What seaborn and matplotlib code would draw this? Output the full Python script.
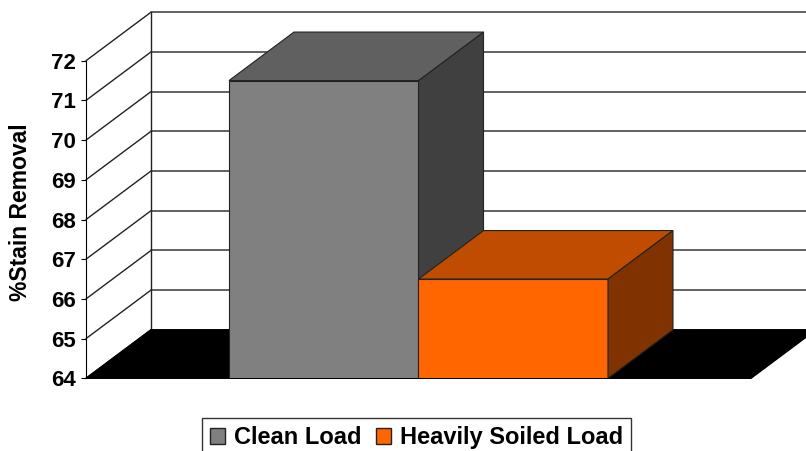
import matplotlib
matplotlib.use("Agg")
import matplotlib.pyplot as plt
import seaborn as sns
import pandas as pd
from matplotlib.patches import Polygon, Patch

categories = ["Clean Load", "Heavily Soiled Load"]
values = [71.5, 66.5]
front_colors = ["#808080", "#FF6600"]
top_colors = ["#606060", "#BF4C00"]
side_colors = ["#404040", "#803300"]
yticks = [64, 65, 66, 67, 68, 69, 70, 71, 72]

W, H = 806, 451
sns.set_style("white")
plt.rcParams["font.family"] = ["Liberation Sans", "DejaVu Sans"]
plt.rcParams["font.weight"] = "bold"
plt.rcParams["text.color"] = "black"

fig = plt.figure(figsize=(W / 100, H / 100), dpi=100)
# axes box = front plane, from the y axis (x=86px) to the right edge
ax_left, ax_bottom, ax_top = 86, 378.3, 60.7
ax = fig.add_axes([ax_left / W, (H - ax_bottom) / H, (W - ax_left) / W, (ax_bottom - ax_top) / H])

df = pd.DataFrame({"load": categories, "removal": values})
sns.barplot(data=df, x="load", y="removal", hue="load", palette=front_colors,
            saturation=1, width=1.0, legend=False, ax=ax, edgecolor="#222222",
            linewidth=0.8, zorder=5)

px_per_x = 189.5
x0 = -0.5 - (229 - ax_left) / px_per_x
x1 = x0 + (W - ax_left) / px_per_x
ax.set_xlim(x0, x1)
ax.set_ylim(64, 72)

# depth offset of the 3D look, in data units
dx = 65 / px_per_x
dy = 48.5 / ((ax_bottom - ax_top) / 8)

floor_right = x0 + (751 - ax_left) / px_per_x
base = 64

# back wall gridlines + diagonals on the left wall
for v in yticks:
    ax.plot([x0, x0 + dx], [v, v + dy], color="#222222", lw=1, clip_on=False, zorder=1)
    ax.plot([x0 + dx, x1 + 1], [v + dy, v + dy], color="#555555", lw=1.3, clip_on=False, zorder=1)
ax.plot([x0 + dx, x0 + dx], [base + dy, 72 + dy], color="#222222", lw=1, clip_on=False, zorder=1)

# black floor
ax.add_patch(Polygon([(x0, base), (floor_right, base), (floor_right + dx, base + dy),
                      (x0 + dx, base + dy)], closed=True, facecolor="black",
                     edgecolor="black", clip_on=False, zorder=2))

# top and side faces from the bar patches
for i, bar in enumerate(ax.patches[:len(values)]):
    bx, bw, top = bar.get_x(), bar.get_width(), bar.get_height()
    ax.add_patch(Polygon([(bx, top), (bx + bw, top), (bx + bw + dx, top + dy), (bx + dx, top + dy)],
                         closed=True, facecolor=top_colors[i], edgecolor="#222222",
                         lw=0.8, clip_on=False, zorder=4))
    ax.add_patch(Polygon([(bx + bw, base), (bx + bw, top), (bx + bw + dx, top + dy), (bx + bw + dx, base + dy)],
                         closed=True, facecolor=side_colors[i], edgecolor="#222222",
                         lw=0.8, clip_on=False, zorder=3 + i * 3))

ax.set_yticks(yticks)
ax.set_yticklabels([str(t) for t in yticks], fontsize=16, fontweight="bold", color="black")
ax.tick_params(axis="y", length=5 * 0.72, width=0.8, pad=5 * 0.72, left=True, color="black")
ax.tick_params(axis="x", bottom=False, labelbottom=False)
ax.set_xlabel("")
ax.set_ylabel("%Stain Removal", fontsize=16.5, fontweight="bold", color="black")
ax.yaxis.set_label_coords((32 - ax_left) / (W - ax_left), (ax_bottom - 212) / (ax_bottom - ax_top))
for s in ["top", "right", "bottom"]:
    ax.spines[s].set_visible(False)
ax.spines["left"].set_color("black")
ax.spines["left"].set_linewidth(0.8)
ax.spines["left"].set_zorder(3)

handles = [Patch(facecolor=c, edgecolor="#222222", label=l) for c, l in zip(front_colors, categories)]
leg = fig.legend(handles=handles, loc="upper left", bbox_to_anchor=(202 / W, 1 - 418 / H),
                 ncol=2, frameon=True, fancybox=False, fontsize=17,
                 handlelength=0.62, handleheight=0.62, handletextpad=0.4,
                 columnspacing=0.6, borderpad=0.35, borderaxespad=0)
leg.get_frame().set_edgecolor("black")
leg.get_frame().set_linewidth(1)
for t in leg.get_texts():
    t.set_fontweight("bold")
    t.set_color("black")

fig.savefig("out.png", dpi=100)
